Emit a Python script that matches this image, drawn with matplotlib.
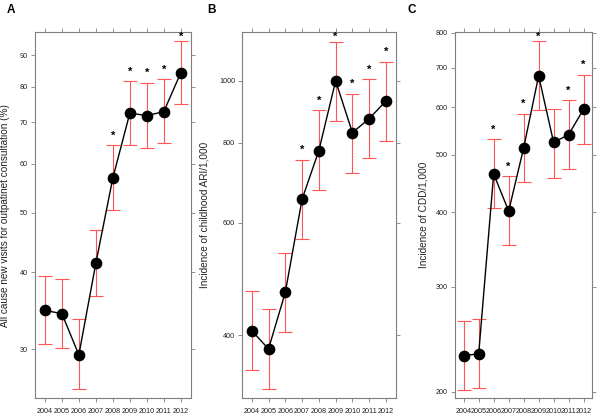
import numpy as np
import matplotlib
matplotlib.use("Agg")
import matplotlib.pyplot as plt
import matplotlib.transforms as mtransforms

plt.rcParams['font.family'] = ['Liberation Sans', 'DejaVu Sans']

years = [2004, 2005, 2006, 2007, 2008, 2009, 2010, 2011, 2012]

# A: all cause new visits for outpatient consultation (%)
visits = [34.7, 34.3, 29.4, 41.4, 56.9, 72.5, 71.8, 72.9, 84.3]
visits_lo = [30.6, 30.2, 25.9, 36.6, 50.5, 64.4, 63.6, 64.9, 74.9]
visits_hi = [39.5, 39.0, 33.6, 46.9, 64.3, 81.7, 81.2, 82.2, 94.7]
visits_sig = [False, False, False, False, True, True, True, True, True]

# B: incidence of childhood ARI per 1,000
ari = [407, 381, 467, 653, 778, 1000, 830, 873, 930]
ari_lo = [353, 330, 405, 566, 675, 866, 719, 758, 806]
ari_hi = [470, 440, 539, 753, 900, 1151, 955, 1006, 1072]
ari_sig = [False, False, False, True, True, True, True, True, True]

# C: incidence of CDD per 1,000
cdd = [230, 231.5, 464, 402, 513, 678, 524, 540, 596]
cdd_lo = [201.6, 202.6, 406, 352, 449, 594, 457, 473, 521]
cdd_hi = [263, 265, 531, 460, 586, 775, 597, 617, 681]
cdd_sig = [False, False, True, True, True, True, False, True, True]

panels = [
    ("A", visits, visits_lo, visits_hi, visits_sig,
     "All cause new visits for outpatinet consultation (%)",
     [30, 40, 50, 60, 70, 80, 90], (25, 98),
     [35, 190.7], -0.163),
    ("B", ari, ari_lo, ari_hi, ari_sig,
     "Incidence of childhood ARI/1,000",
     [400, 600, 800, 1000], (319, 1191),
     [242, 395.7], -0.21),
    ("C", cdd, cdd_lo, cdd_hi, cdd_sig,
     "Incidence of CDD/1,000",
     [200, 300, 400, 500, 600, 700, 800], (195, 802),
     [455, 592.3], -0.193),
]

W, H = 600, 417
fig = plt.figure(figsize=(6, 4.17), dpi=100)
bottom_px, top_px = 398.3, 32.3
spine_col = "#7f7f7f"

for letter, val, lo, hi, sig, ylab, yticks, ylim, xs, labx in panels:
    ax = fig.add_axes([xs[0] / W, (H - bottom_px) / H,
                       (xs[1] - xs[0]) / W, (bottom_px - top_px) / H])
    val = np.array(val, dtype=float)
    err = [val - np.array(lo), np.array(hi) - val]
    ax.errorbar(years, val, yerr=err, fmt="none", ecolor="#ff5555",
                elinewidth=0.8, capsize=5, capthick=0.8, zorder=2)
    ax.plot(years, val, color="black", lw=1.0, marker="o", ms=7.4, zorder=3)

    ax.set_yscale("log")
    ax.set_ylim(*ylim)
    ax.set_xlim(2003.42, 2012.58)
    ax.yaxis.set_minor_locator(matplotlib.ticker.NullLocator())
    ax.set_yticks(yticks)
    ax.set_yticklabels([str(t) for t in yticks])
    ax.set_xticks(years)
    ax.set_xticklabels([str(y) for y in years])

    ax.tick_params(direction="out", length=3, width=0.6, color=spine_col,
                   labelsize=5.2, labelcolor="#222222", pad=2,
                   top=True, right=True)
    ax.tick_params(axis="x", pad=4)
    for s in ax.spines.values():
        s.set_color(spine_col)
        s.set_linewidth(0.8)

    ax.set_ylabel(ylab, fontsize=7.2, color="#222222")
    ax.yaxis.set_label_coords(labx, 0.5)

    # significance stars above the upper error bar
    l0, l1 = np.log(ylim[0]), np.log(ylim[1])
    trans = mtransforms.blended_transform_factory(ax.transData, ax.transAxes)
    span = bottom_px - top_px
    for x, h, s in zip(years, hi, sig):
        if not s:
            continue
        fy = (np.log(h) - l0) / (l1 - l0)
        fy = min(fy + 9.5 / span, 1 - 5 / span)
        ax.text(x, fy, "*", transform=trans, ha="center", va="center",
                fontsize=8, fontweight="bold", color="black")

fig.text(11 / W, 1 - 10 / H, "A", fontsize=8.5, fontweight="bold",
         ha="center", va="center")
fig.text(212 / W, 1 - 10 / H, "B", fontsize=8.5, fontweight="bold",
         ha="center", va="center")
fig.text(412 / W, 1 - 10 / H, "C", fontsize=8.5, fontweight="bold",
         ha="center", va="center")

fig.savefig("out.png", dpi=100)
